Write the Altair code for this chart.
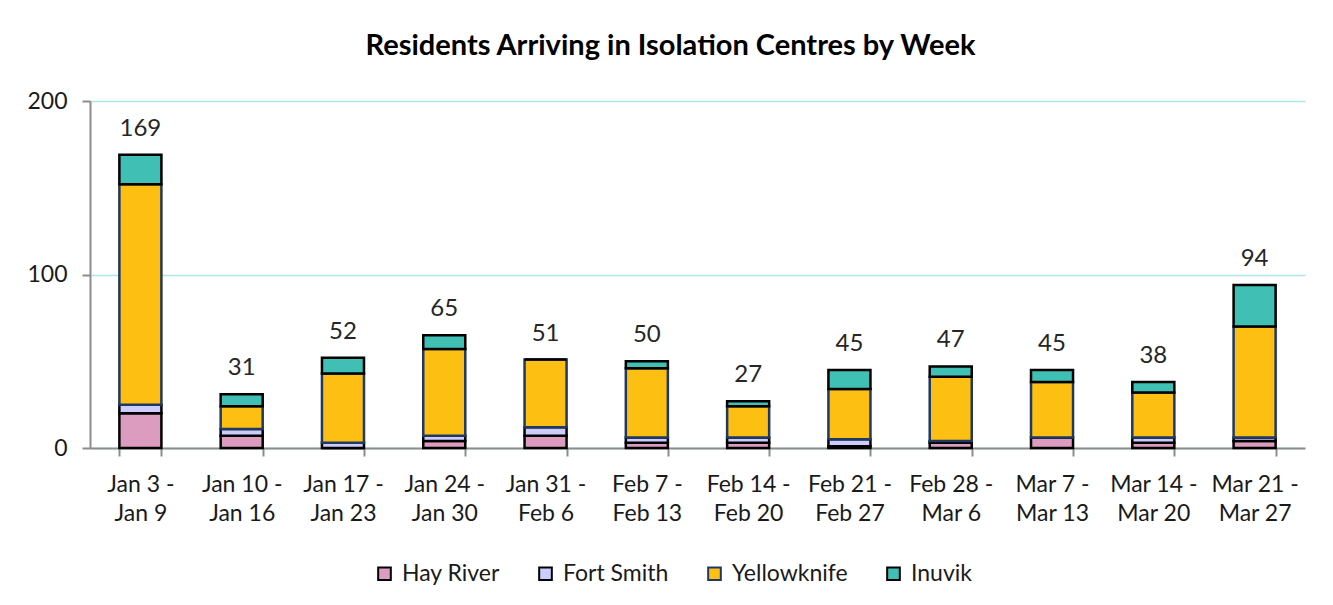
import altair as alt
import pandas as pd

weeks = ["Jan 3 - Jan 9", "Jan 10 - Jan 16", "Jan 17 - Jan 23", "Jan 24 - Jan 30",
         "Jan 31 - Feb 6", "Feb 7 - Feb 13", "Feb 14 - Feb 20", "Feb 21 - Feb 27",
         "Feb 28 - Mar 6", "Mar 7 - Mar 13", "Mar 14 - Mar 20", "Mar 21 - Mar 27"]
cities = ["Hay River", "Fort Smith", "Yellowknife", "Inuvik"]
hay_river = [20, 7, 0, 4, 7, 3, 3, 1, 3, 6, 3, 4]
fort_smith = [5, 4, 3, 3, 5, 3, 3, 4, 1, 0, 3, 2]
yellowknife = [127, 13, 40, 50, 39, 40, 18, 29, 37, 32, 26, 64]
inuvik = [17, 7, 9, 8, 0, 4, 3, 11, 6, 7, 6, 24]

fills = ["#DC9CC0", "#CCCCFF", "#FDBF12", "#40BFB4"]
strokes = ["#000000", "#000000", "#1F3864", "#000000"]

rows = []
series = [hay_river, fort_smith, yellowknife, inuvik]
for i, w in enumerate(weeks):
    for j, c in enumerate(cities):
        rows.append({"week": w, "city": c, "order": j, "value": series[j][i]})
df = pd.DataFrame(rows)

FONT = "Lato"

x_enc = alt.X(
    "week:N", sort=weeks, title=None,
    scale=alt.Scale(paddingInner=0.585, paddingOuter=0.29),
    axis=alt.Axis(
        labelExpr="isValid(datum.value) ? [split(datum.value, ' - ')[0] + ' -', split(datum.value, ' - ')[1]] : ''",
        labelAngle=0, labelFontSize=23, labelFont=FONT, labelColor="#1a1a1a",
        labelPadding=17, labelLineHeight=29, tickSize=8, tickBand="extent",
        domainColor="#8C8C8C", tickColor="#8C8C8C", domainWidth=2, tickWidth=2,
        grid=False, labelBaseline="top",
    ),
)

bars = alt.Chart(df).mark_bar(strokeWidth=2.5).encode(
    x=x_enc,
    y=alt.Y(
        "value:Q", stack="zero", title=None,
        scale=alt.Scale(domain=[0, 200]),
        axis=alt.Axis(
            values=[0, 100, 200], labelFontSize=23, labelFont=FONT, labelColor="#1a1a1a",
            labelPadding=15, tickSize=8, domainColor="#8C8C8C", tickColor="#8C8C8C",
            domainWidth=2, tickWidth=2, gridColor="#ADE8E2", gridWidth=1.5,
        ),
    ),
    color=alt.Color(
        "city:N", title=None,
        scale=alt.Scale(domain=cities, range=fills),
        legend=alt.Legend(
            orient="none", direction="horizontal", legendX=283, legendY=461,
            symbolType="square", symbolSize=160, symbolStrokeColor="#000000",
            symbolStrokeWidth=2, labelFontSize=23, labelFont=FONT, labelColor="#1a1a1a",
            columnPadding=34, labelOffset=6,
        ),
    ),
    stroke=alt.Stroke("city:N", scale=alt.Scale(domain=cities, range=strokes), legend=None),
    order=alt.Order("order:Q"),
)

totals = alt.Chart(df).mark_text(
    dy=-19, baseline="alphabetic", fontSize=24, font=FONT, color="#262626"
).encode(
    x=alt.X("week:N", sort=weeks),
    y=alt.Y("sum(value):Q"),
    text=alt.Text("sum(value):Q"),
)

chart = alt.layer(bars, totals).properties(
    width=1215, height=347,
    title=alt.TitleParams(
        "Residents Arriving in Isolation Centres by Week",
        fontSize=29, font=FONT, fontWeight="bold", color="#000000",
        anchor="middle", dx=-27, offset=29,
    ),
    autosize=alt.AutoSizeParams(type="none"),
    padding={"left": 82, "top": 93, "right": 20, "bottom": 150},
).configure_view(stroke=None)

chart.save("out.html", embed_options={"renderer": "svg", "actions": False})
